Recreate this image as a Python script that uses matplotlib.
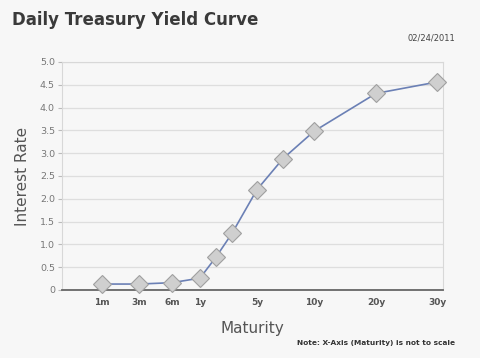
import matplotlib.pyplot as plt

# maturities in order, with the label shown under the axis ('' = no label)
maturity = ["1m", "3m", "6m", "1y", "2y", "3y", "5y", "7y", "10y", "20y", "30y"]
tick_text = ["1m", "3m", "6m", "1y", "", "", "5y", "", "10y", "20y", "30y"]
# x axis is not to scale: slot positions
slot = [102, 139, 172, 200, 216, 232, 257, 283, 314, 376, 437]
rate = [0.13, 0.13, 0.16, 0.26, 0.72, 1.24, 2.20, 2.88, 3.48, 4.31, 4.56]

y_ticks = [0, 0.5, 1.0, 1.5, 2.0, 2.5, 3.0, 3.5, 4.0, 4.5, 5.0]
y_text = ["0", "0.5", "1.0", "1.5", "2.0", "2.5", "3.0", "3.5", "4.0", "4.5", "5.0"]

bg = "#f7f7f7"
fig = plt.figure(figsize=(4.8, 3.58), dpi=100, facecolor=bg)
ax = fig.add_axes([0.129, 0.19, 0.794, 0.637], facecolor=bg)

ax.plot(slot, rate, color="#6b80b5", lw=1.2, marker="D", ms=9,
        mfc="#cfcfcf", mec="#a0a0a0", mew=0.8, zorder=3, clip_on=False)

ax.set_xlim(62, 443)
ax.set_ylim(0, 5.0)
ax.set_yticks(y_ticks)
ax.set_yticklabels(y_text, fontsize=6.8, color="#777777")
ax.set_xticks([s for s, t in zip(slot, tick_text) if t])
ax.set_xticklabels([t for t in tick_text if t], fontsize=6.5, color="#555555",
                   fontweight="bold")
ax.tick_params(axis="x", length=0, pad=6)
ax.tick_params(axis="y", length=3, color="#bbbbbb", pad=2)
ax.grid(axis="y", color="#dedede", lw=0.9)
ax.set_axisbelow(True)

for side in ["top", "right", "left"]:
    ax.spines[side].set_color("#d8d8d8")
    ax.spines[side].set_linewidth(0.8)
ax.spines["bottom"].set_color("#666666")
ax.spines["bottom"].set_linewidth(1.3)

ax.set_ylabel("Interest Rate", fontsize=11, color="#555555", labelpad=7)
ax.set_xlabel("Maturity", fontsize=11, color="#555555", labelpad=10)

fig.text(0.025, 0.945, "Daily Treasury Yield Curve", fontsize=12,
         fontweight="bold", color="#3a3a3a", va="center")
fig.text(0.948, 0.893, "02/24/2011", fontsize=6, color="#444444",
         ha="right", va="center")
fig.text(0.948, 0.042, "Note: X-Axis (Maturity) is not to scale", fontsize=5.3,
         fontweight="bold", color="#333333", ha="right", va="center")

fig.savefig("out.png", dpi=100, facecolor=bg)
